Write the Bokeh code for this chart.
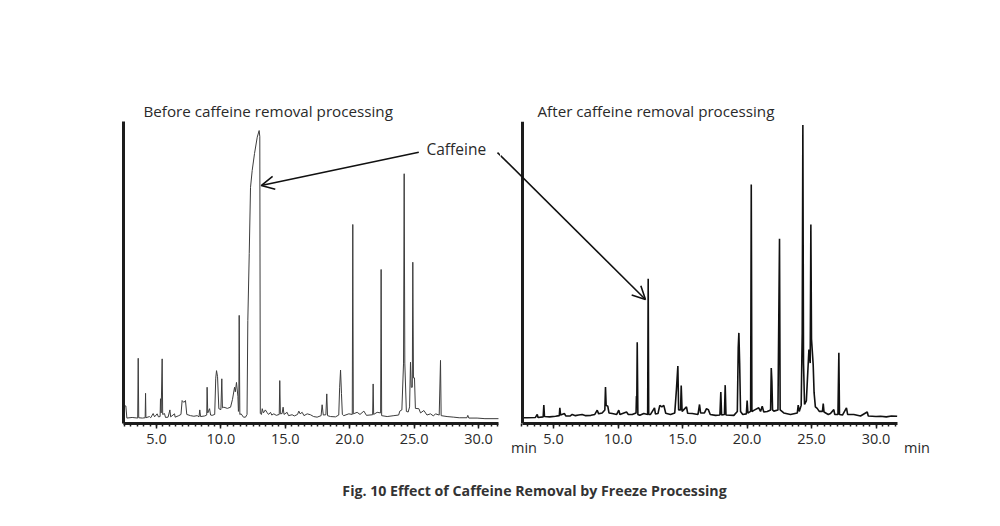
from bokeh.plotting import figure
from bokeh.models import (Range1d, FixedTicker, NumeralTickFormatter, Arrow, OpenHead,
                          Label, ColumnDataSource, Span, LinearAxis)
from bokeh.layouts import row, column
from bokeh.embed import file_html
from bokeh.resources import INLINE
import numpy as np

# ---------------- data (retention time in min, relative intensity in %) ----------------
BEFORE_TIME = [2.45, 2.62, 2.70, 3.11, 3.54, 3.58, 3.62, 3.90, 4.12, 4.15, 4.18, 4.45, 4.55,
               4.74, 4.85, 5.05, 5.15, 5.28, 5.31, 5.36, 5.44, 5.48, 5.62, 5.70, 5.90, 6.04,
               6.10, 6.40, 6.45, 6.73, 6.90, 6.99, 7.12, 7.25, 7.35, 7.64, 7.90, 8.16, 8.30,
               8.36, 8.42, 8.75, 8.90, 8.93, 8.98, 9.12, 9.20, 9.32, 9.52, 9.60, 9.66, 9.74,
               9.84, 10.00, 10.07, 10.12, 10.23, 10.50, 10.75, 10.90, 11.06, 11.12, 11.21,
               11.32, 11.36, 11.39, 11.42, 11.47, 11.57, 11.75, 11.91, 12.03, 12.09, 12.20,
               12.30, 12.43, 12.61, 12.82, 12.97, 13.02, 13.06, 13.15, 13.21, 13.30, 13.45,
               13.59, 13.70, 13.85, 13.95, 14.11, 14.30, 14.53, 14.57, 14.62, 14.75, 14.83,
               14.90, 15.14, 15.25, 15.53, 15.70, 15.95, 16.05, 16.15, 16.31, 16.45, 16.70,
               16.95, 17.20, 17.47, 17.78, 17.86, 17.95, 18.15, 18.22, 18.28, 18.51, 18.90,
               19.15, 19.22, 19.29, 19.36, 19.43, 19.54, 19.93, 20.20, 20.24, 20.28, 20.58,
               20.80, 21.10, 21.30, 21.78, 21.82, 21.86, 22.13, 22.40, 22.44, 22.48, 22.91,
               23.43, 23.80, 23.89, 24.05, 24.18, 24.23, 24.28, 24.40, 24.54, 24.65, 24.72,
               24.78, 24.86, 24.90, 24.95, 25.03, 25.10, 25.37, 25.50, 25.76, 26.00, 26.27,
               26.50, 26.66, 26.95, 27.05, 27.10, 27.56, 28.08, 28.50, 29.10, 29.17, 29.25,
               29.89, 30.50, 31.55]
BEFORE_INTENSITY = [6.0, 5.8, 1.8, 2.0, 1.8, 21.6, 1.9, 1.8, 1.9, 10.0, 1.9, 2.3, 1.9,
                    3.3, 2.2, 3.2, 2.2, 2.3, 8.2, 3.5, 21.4, 3.0, 3.3, 2.0, 2.1, 4.5,
                    2.2, 3.2, 2.1, 2.6, 3.0, 7.6, 7.0, 7.6, 3.0, 2.6, 2.4, 2.6, 2.2,
                    4.5, 2.3, 2.5, 2.8, 12.0, 3.5, 4.9, 2.8, 2.7, 3.0, 15.0, 17.5, 15.5,
                    4.9, 4.6, 14.8, 5.2, 5.4, 5.0, 5.4, 8.0, 12.0, 10.5, 13.6,
                    9.0, 4.0, 5.0, 35.8, 3.0, 3.2, 2.1, 2.1, 3.0, 34.1, 56.3,
                    78.2, 83.8, 89.4, 94.8, 97.0, 95.0, 3.3, 3.0, 4.9, 3.5, 4.5,
                    3.6, 3.0, 3.7, 2.8, 3.2, 2.7, 3.0, 14.2, 3.2, 3.3, 5.4,
                    3.0, 3.7, 2.6, 2.9, 2.5, 3.0, 4.1, 3.2, 3.7, 2.6, 3.2,
                    2.9, 2.3, 2.1, 2.6, 6.2, 2.8, 2.9, 9.8, 2.6, 2.3, 2.2,
                    2.8, 12.0, 17.7, 10.0, 3.0, 2.6, 3.2, 3.0, 65.9, 3.2, 3.7,
                    3.0, 4.1, 2.7, 2.9, 13.1, 3.0, 3.7, 3.5, 51.0, 2.6, 2.3,
                    2.6, 2.8, 4.1, 4.5, 20.0, 82.7, 20.0, 4.0, 3.8, 5.5, 20.3,
                    12.0, 12.0, 53.4, 15.1, 15.1, 5.0, 4.9, 3.5, 4.3, 2.8, 3.2,
                    2.5, 3.2, 2.8, 20.9, 2.6, 2.3, 2.1, 1.9, 1.9, 2.7, 1.8,
                    1.8, 1.6, 1.6]

AFTER_TIME = [2.62, 2.96, 3.60, 3.74, 3.80, 4.20, 4.25, 4.30, 4.70, 5.16, 5.45, 5.49, 5.55,
              5.85, 5.95, 6.30, 6.45, 6.70, 6.95, 7.22, 7.50, 7.90, 8.20, 8.39, 8.50, 8.77,
              8.98, 9.03, 9.08, 9.21, 9.30, 9.55, 9.90, 10.06, 10.15, 10.66, 10.80, 11.10,
              11.40, 11.43, 11.46, 11.49, 11.54, 11.69, 12.00, 12.30, 12.34, 12.38, 12.52,
              12.83, 12.90, 13.10, 13.24, 13.40, 13.55, 13.70, 14.07, 14.40, 14.53, 14.64,
              14.70, 14.85, 14.90, 14.97, 15.31, 15.40, 15.75, 16.20, 16.32, 16.40, 16.70,
              16.86, 17.00, 17.15, 17.56, 17.90, 17.97, 18.03, 18.25, 18.31, 18.37, 18.98,
              19.25, 19.32, 19.37, 19.43, 19.50, 19.67, 19.95, 20.01, 20.07, 20.28, 20.33,
              20.38, 20.60, 20.91, 21.05, 21.18, 21.30, 21.57, 21.83, 21.88, 21.93, 21.98,
              22.08, 22.40, 22.52, 22.57, 22.85, 23.37, 23.90, 23.97, 24.05, 24.20, 24.28,
              24.33, 24.38, 24.46, 24.60, 24.80, 24.90, 24.95, 25.00, 25.13, 25.20, 25.30,
              25.44, 25.60, 25.85, 25.91, 25.97, 26.30, 26.47, 26.73, 26.80, 27.05, 27.12,
              27.17, 27.40, 27.71, 27.80, 28.28, 28.80, 29.32, 29.40, 30.00, 30.35, 30.80,
              31.20, 31.64]
AFTER_INTENSITY = [1.9, 1.9, 2.0, 3.0, 2.0, 2.2, 6.1, 2.3, 2.2, 2.4, 2.6, 5.2, 2.8,
                   3.3, 2.5, 2.5, 3.0, 2.6, 2.8, 3.0, 2.6, 2.7, 3.0, 4.4, 3.2, 3.5,
                   4.5, 12.1, 6.0, 5.7, 3.5, 3.3, 3.0, 4.4, 3.0, 3.8, 3.0, 3.0,
                   3.5, 9.0, 9.0, 26.9, 3.0, 2.7, 3.3, 3.0, 47.9, 3.0, 3.0,
                   5.2, 3.2, 3.3, 6.0, 5.5, 6.0, 3.4, 3.0, 3.5, 11.3, 19.0,
                   4.5, 4.5, 12.6, 4.0, 5.5, 3.4, 3.3, 3.0, 6.3, 3.5, 3.5,
                   4.9, 4.6, 3.0, 2.7, 2.8, 10.4, 2.8, 3.0, 12.7, 2.8, 2.7,
                   4.0, 25.0, 30.0, 20.0, 4.0, 3.0, 3.2, 7.6, 3.5, 4.0, 79.1,
                   4.0, 4.5, 5.2, 4.0, 5.7, 3.8, 4.0, 4.5, 18.4, 14.0, 4.5,
                   4.1, 4.5, 61.2, 4.5, 3.5, 3.0, 3.5, 6.1, 4.0, 6.0, 30.0,
                   98.8, 20.0, 6.3, 7.5, 24.5, 20.0, 65.9, 28.0, 19.5, 10.2, 5.5,
                   5.0, 4.0, 4.0, 6.6, 3.8, 3.0, 3.3, 4.6, 3.0, 3.0, 23.4,
                   3.0, 2.8, 5.2, 3.0, 3.0, 2.5, 3.8, 2.5, 2.3, 2.4, 2.2,
                   2.5, 2.4]

MAJOR_TICKS = [5.0, 10.0, 15.0, 20.0, 25.0, 30.0]
UNIT_TICKS = [2.713, 33.18]          # where the two "min" unit labels sit (right panel scale)
TITLES = ["Before caffeine removal processing", "After caffeine removal processing"]
CAPTION = "Fig. 10 Effect of Caffeine Removal by Freeze Processing"
PEAK_LABEL = "Caffeine"
UNIT_LABEL = "min"

FONT = "Open Sans"
AXIS_COLOR = "#1c1c1c"
TEXT_COLOR = "#2a2a2a"


def make_panel(times, intens, width, border_left, x_start, x_end, axis_start, axis_end,
               title, title_offset, line_color, line_width):
    p = figure(width=width, height=470, x_range=Range1d(x_start, x_end),
               y_range=Range1d(0, 100), output_backend="svg", toolbar_location=None,
               min_border_left=border_left, min_border_right=0, min_border_top=121,
               min_border_bottom=47, outline_line_color=None, title=title,
               background_fill_color="white", border_fill_color="white")
    p.grid.visible = False
    t = p.title
    t.align = "left"
    t.offset = title_offset
    t.standoff = 1
    t.text_font = FONT
    t.text_font_size = "15.2px"
    t.text_font_style = "normal"
    t.text_color = TEXT_COLOR

    xa = p.xaxis[0]
    xa.bounds = (axis_start, axis_end)
    minor = list(np.arange(2.5, axis_end, 0.5))
    xa.ticker = FixedTicker(ticks=MAJOR_TICKS, minor_ticks=minor)
    xa.formatter = NumeralTickFormatter(format="0.0")
    xa.axis_line_width = 3
    xa.axis_line_color = AXIS_COLOR
    xa.major_tick_in = 0
    xa.major_tick_out = 5
    xa.minor_tick_in = 0
    xa.minor_tick_out = 3
    xa.major_tick_line_width = 1.5
    xa.minor_tick_line_width = 1.5
    xa.major_tick_line_color = AXIS_COLOR
    xa.minor_tick_line_color = AXIS_COLOR
    xa.major_label_standoff = 5
    xa.major_label_text_font = FONT
    xa.major_label_text_font_size = "14.5px"
    xa.major_label_text_color = TEXT_COLOR

    src = ColumnDataSource(dict(time=times, intensity=intens))
    p.line("time", "intensity", source=src, line_color=line_color, line_width=line_width)
    return p


# left panel: x(px) = 156 + (t - 5) * 12.88 ; frame 123..500
left = make_panel(BEFORE_TIME, BEFORE_INTENSITY, 500, 123, 2.438, 31.708, 2.438, 31.55,
                  TITLES[0], 20, "#3c3c3c", 1.0)
ya = left.yaxis[0]
ya.ticker = FixedTicker(ticks=[])
ya.major_tick_out = 0
ya.major_tick_in = 0
ya.minor_tick_out = 0
ya.minor_tick_in = 0
ya.major_label_text_font_size = "0px"
ya.axis_line_width = 3
ya.axis_line_color = AXIS_COLOR

# right panel: x(px) = 553 + (t - 5) * 12.9 ; frame 500..1000, y axis drawn at t=2.597
right = make_panel(AFTER_TIME, AFTER_INTENSITY, 500, 0, 0.891, 39.651, 2.597, 31.67,
                   TITLES[1], 37, "#111111", 1.6)
right.yaxis.visible = False
right.add_layout(Span(location=2.597, dimension="height", line_width=3,
                      line_color=AXIS_COLOR))

# unit labels ("min") as a second, line-less axis below the right panel
unit_axis = LinearAxis(ticker=FixedTicker(ticks=UNIT_TICKS),
                       major_label_overrides={UNIT_TICKS[0]: UNIT_LABEL,
                                              UNIT_TICKS[1]: UNIT_LABEL},
                       bounds=(2.6, 33.4), axis_line_color=None,
                       major_tick_line_color=None, minor_tick_line_color=None,
                       major_tick_in=0, major_tick_out=0, minor_tick_in=0, minor_tick_out=0,
                       major_label_standoff=-9, major_label_text_font=FONT,
                       major_label_text_font_size="14.5px",
                       major_label_text_color=TEXT_COLOR)
right.add_layout(unit_axis, "below")

# caffeine annotation
left.add_layout(Label(x=25.96, y=91.0, text=PEAK_LABEL, text_font=FONT,
                      text_font_size="15.5px", text_color=TEXT_COLOR,
                      text_baseline="middle", text_align="left"))
left.add_layout(Arrow(x_start=25.365, y_start=89.8, x_end=13.13, y_end=78.8,
                      line_width=1.6, line_color="#111111",
                      end=OpenHead(size=13, line_width=1.6, line_color="#111111")))
left.add_layout(Arrow(x_start=31.475, y_start=89.7, x_end=31.708, y_end=88.74,
                      line_width=1.6, line_color="#111111", end=None))
right.add_layout(Arrow(x_start=0.891, y_start=88.74, x_end=12.13, y_end=41.06,
                       line_width=1.6, line_color="#111111",
                       end=OpenHead(size=13, line_width=1.6, line_color="#111111")))

# caption strip
cap = figure(width=1000, height=56, x_range=Range1d(0, 1000), y_range=Range1d(0, 56),
             output_backend="svg", toolbar_location=None, min_border=0,
             outline_line_color=None, background_fill_color="white",
             border_fill_color="white")
cap.axis.visible = False
cap.grid.visible = False
cap.add_layout(Label(x=534, y=36, text=CAPTION, text_font=FONT,
                     text_font_size="14.2px", text_font_style="bold", text_color="#333333",
                     text_align="center", text_baseline="middle"))

layout = column(row(left, right), cap)
open("out.html", "w").write(file_html(layout, INLINE))
